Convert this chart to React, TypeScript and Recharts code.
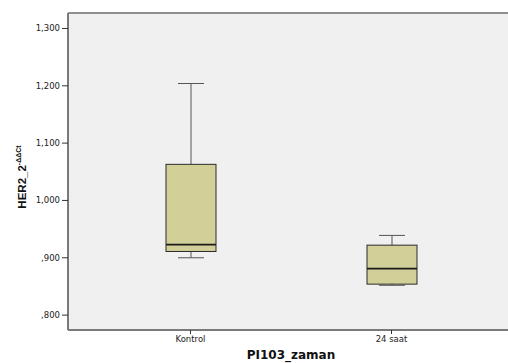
import React from 'react';
import { ComposedChart, Bar, XAxis, YAxis, CartesianGrid, ReferenceLine } from 'recharts';

const categories = ['Kontrol', '24 saat'];
const minValues = [0.9, 0.852];
const q1Values = [0.911, 0.854];
const medianValues = [0.923, 0.881];
const q3Values = [1.063, 0.922];
const maxValues = [1.204, 0.939];
const yTicks = [0.8, 0.9, 1.0, 1.1, 1.2, 1.3];
const yTickLabels = [',800', ',900', '1,000', '1,100', '1,200', '1,300'];
const yDomain = [0.774, 1.327];

const data = categories.map((name, i) => ({
  name,
  range: [minValues[i], maxValues[i]],
  min: minValues[i],
  q1: q1Values[i],
  median: medianValues[i],
  q3: q3Values[i],
  max: maxValues[i],
}));

const BoxShape = (props: any) => {
  const { x, y, width, height, payload } = props;
  const top = Math.min(y, y + height);
  const bottom = Math.max(y, y + height);
  const span = payload.max - payload.min;
  const px = (v: number) => bottom - ((v - payload.min) / span) * (bottom - top);
  const cx = x + width / 2;
  const cap = 13;
  return (
    <g>
      <line x1={cx} x2={cx} y1={px(payload.max)} y2={px(payload.q3)} stroke="#555" strokeWidth={1} />
      <line x1={cx} x2={cx} y1={px(payload.q1)} y2={px(payload.min)} stroke="#555" strokeWidth={1} />
      <line x1={cx - cap} x2={cx + cap} y1={px(payload.max)} y2={px(payload.max)} stroke="#555" strokeWidth={1} />
      <line x1={cx - cap} x2={cx + cap} y1={px(payload.min)} y2={px(payload.min)} stroke="#555" strokeWidth={1} />
      <rect x={x} y={px(payload.q3)} width={width} height={px(payload.q1) - px(payload.q3)} fill="#D3CF99" stroke="#2a2a2a" strokeWidth={1} />
      <line x1={x} x2={x + width} y1={px(payload.median)} y2={px(payload.median)} stroke="#1a1a1a" strokeWidth={1.6} />
    </g>
  );
};

const YLabel = () => (
  <text transform="translate(26,177) rotate(-90)" textAnchor="middle" fontFamily="'Liberation Sans', Arial, sans-serif" fontWeight="bold" fill="#111">
    <tspan fontSize={11.5}>HER2_2</tspan>
    <tspan fontSize={7} dy={-5}>-ΔΔCt</tspan>
  </text>
);

const XLabel = () => (
  <text x={291} y={359} textAnchor="middle" fontFamily="'DejaVu Sans', sans-serif" fontWeight="bold" fontSize={12} fill="#111">
    PI103_zaman
  </text>
);

export default function App() {
  return (
    <div style={{ position: 'absolute', left: 0, top: 0, width: 508, height: 363, background: '#fff', overflow: 'hidden' }}>
      <ComposedChart width={510} height={363} data={data} margin={{ top: 13, right: 0, bottom: 0, left: 0 }}>
        <CartesianGrid horizontal={false} vertical={false} fill="#F0F0F0" />
        <ReferenceLine y={yDomain[1]} stroke="#8f8f8f" strokeWidth={2} ifOverflow="extendDomain" />
        <XAxis
          dataKey="name"
          height={33}
          padding={{ left: 22, right: 18 }}
          axisLine={{ stroke: '#7a7a7a', strokeWidth: 2 }}
          tickLine={{ stroke: '#333' }}
          tickSize={4}
          tick={{ fontSize: 8.5, fill: '#222', fontFamily: "'DejaVu Sans', sans-serif" }}
          label={<XLabel />}
        />
        <YAxis
          type="number"
          domain={yDomain}
          ticks={yTicks}
          width={68}
          allowDataOverflow
          axisLine={{ stroke: '#7a7a7a', strokeWidth: 2 }}
          tickLine={{ stroke: '#333' }}
          tickSize={6}
          tickFormatter={(v: number) => yTickLabels[yTicks.findIndex((t) => Math.abs(t - v) < 1e-6)] ?? ''}
          tick={{ fontSize: 8.5, fill: '#222', fontFamily: "'DejaVu Sans', sans-serif" }}
          label={<YLabel />}
        />
        <Bar dataKey="range" barSize={50} shape={<BoxShape />} isAnimationActive={false} />
      </ComposedChart>
    </div>
  );
}
